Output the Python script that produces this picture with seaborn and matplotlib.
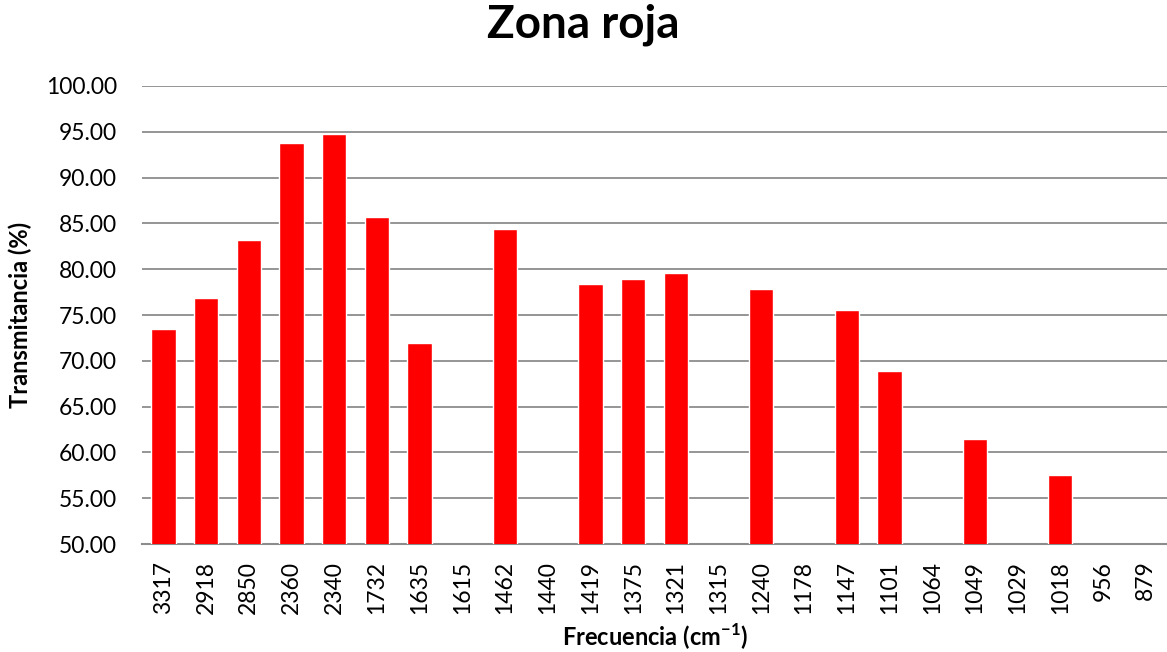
import numpy as np
import pandas as pd
import matplotlib
matplotlib.use('Agg')
import matplotlib.pyplot as plt
import seaborn as sns

# Data (NaN = no visible bar)
frecuencias = ['3317', '2918', '2850', '2360', '2340', '1732', '1635', '1615',
               '1462', '1440', '1419', '1375', '1321', '1315', '1240', '1178',
               '1147', '1101', '1064', '1049', '1029', '1018', '956', '879']
transmitancia = [73.5, 76.9, 83.2, 93.8, 94.8, 85.7, 71.9, np.nan,
                 84.4, np.nan, 78.4, 78.9, 79.6, np.nan, 77.8, np.nan,
                 75.5, 68.9, np.nan, 61.5, np.nan, 57.5, np.nan, np.nan]
y_ticks = [50, 55, 60, 65, 70, 75, 80, 85, 90, 95, 100]

df = pd.DataFrame({'freq': frecuencias, 'trans': transmitancia})

sns.set_style('white')
plt.rcParams['font.family'] = ['Lato', 'DejaVu Sans']
plt.rcParams['mathtext.fontset'] = 'custom'
plt.rcParams['mathtext.bf'] = 'Lato:bold'
plt.rcParams['mathtext.rm'] = 'Lato'
for key in ['text.color', 'axes.labelcolor', 'xtick.color', 'ytick.color']:
    plt.rcParams[key] = 'black'

fig = plt.figure(figsize=(11.67, 6.52), dpi=100)
ax = fig.add_axes([0.1217, 0.1656, 0.8783, 0.7025])

sns.barplot(data=df, x='freq', y='trans', order=frecuencias, color='#FF0000',
            saturation=1, width=0.57, errorbar=None, ax=ax, zorder=3)

ax.set_ylim(50, 100)
ax.set_xlim(-0.5, len(frecuencias) - 0.5)
ax.set_yticks(y_ticks)
ax.set_yticklabels([f'{v:.2f}' for v in y_ticks], fontsize=16.5)
ax.tick_params(axis='x', labelrotation=90, labelsize=16.5, length=0, pad=12)
ax.tick_params(axis='y', length=0, pad=18)
ax.yaxis.grid(True, color='#8c8c8c', linewidth=1.3, zorder=0)
ax.set_axisbelow(True)

for side in ['top', 'right', 'left']:
    ax.spines[side].set_visible(False)
ax.spines['bottom'].set_color('#8c8c8c')
ax.spines['bottom'].set_linewidth(1.5)

fig.suptitle('Zona roja', x=0.5, y=0.962, va='center', fontsize=33, fontweight='bold')
ax.set_xlabel(r'Frecuencia (cm$^{\mathbf{-1}}$)', fontsize=17, fontweight='bold', labelpad=6)
ax.set_ylabel('Transmitancia (%)', fontsize=17, fontweight='bold', labelpad=10)

fig.savefig('out.png', dpi=100)
plt.close(fig)
